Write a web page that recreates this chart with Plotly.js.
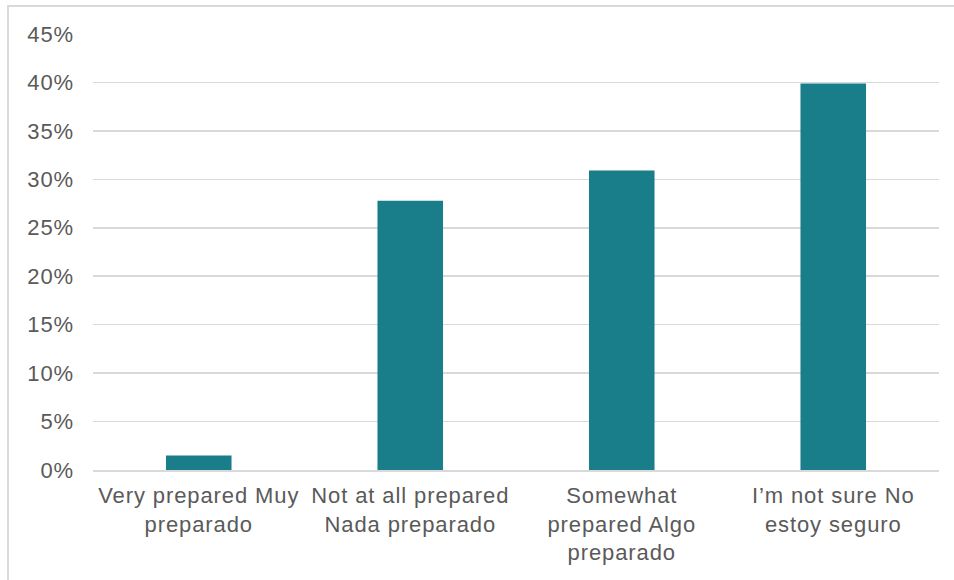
<!DOCTYPE html>
<html>
<head>
<meta charset="utf-8">
<script src="https://cdn.plot.ly/plotly-3.0.1.min.js"></script>
<style>
html,body{margin:0;padding:0;background:#fff;}
#wrap{position:relative;width:954px;height:580px;overflow:hidden;}
#frame{position:absolute;left:7px;top:5px;width:960px;height:600px;border-left:2px solid #d9d9d9;border-top:2px solid #d9d9d9;pointer-events:none;}
#chart{position:absolute;left:0;top:0;width:954px;height:580px;}
#chart text{letter-spacing:0.9px;}
</style>
</head>
<body>
<div id="wrap"><div id="chart"></div><div id="frame"></div></div>
<script>
const categories = [
  "Very prepared Muy<br>preparado",
  "Not at all prepared<br>Nada preparado",
  "Somewhat<br>prepared Algo<br>preparado",
  "I’m not sure No<br>estoy seguro"
];
const values = [0.015, 0.278, 0.309, 0.399];
const tickValues = [0, 0.05, 0.10, 0.15, 0.20, 0.25, 0.30, 0.35, 0.40, 0.45];
const tickLabels = ["0%", "5%", "10%", "15%", "20%", "25%", "30%", "35%", "40%", "45%"];

const trace = {
  type: 'bar',
  x: categories,
  y: values,
  marker: {color: '#1a7d8a', line: {width: 0}},
  hoverinfo: 'none'
};

const layout = {
  width: 954,
  height: 580,
  margin: {l: 93, r: 15, t: 34, b: 110},
  paper_bgcolor: '#ffffff',
  plot_bgcolor: '#ffffff',
  showlegend: false,
  bargap: 0.69,
  font: {family: 'Liberation Sans, Arial, sans-serif', size: 22, color: '#5a5a5a'},
  xaxis: {
    type: 'category',
    showgrid: false,
    showline: true,
    linecolor: '#d9d9d9',
    linewidth: 1.5,
    ticks: '',
    tickangle: 0,
    ticklabelstandoff: 5,
    tickfont: {size: 22, color: '#5a5a5a'}
  },
  yaxis: {
    range: [0, 0.45],
    tickvals: tickValues,
    ticktext: tickLabels,
    showgrid: true,
    gridcolor: '#d9d9d9',
    gridwidth: 1.5,
    zeroline: false,
    showline: false,
    ticks: '',
    ticklabelstandoff: 18,
    tickfont: {size: 22, color: '#5a5a5a'}
  }
};

Plotly.newPlot('chart', [trace], layout, {staticPlot: true, displayModeBar: false});
</script>
</body>
</html>
